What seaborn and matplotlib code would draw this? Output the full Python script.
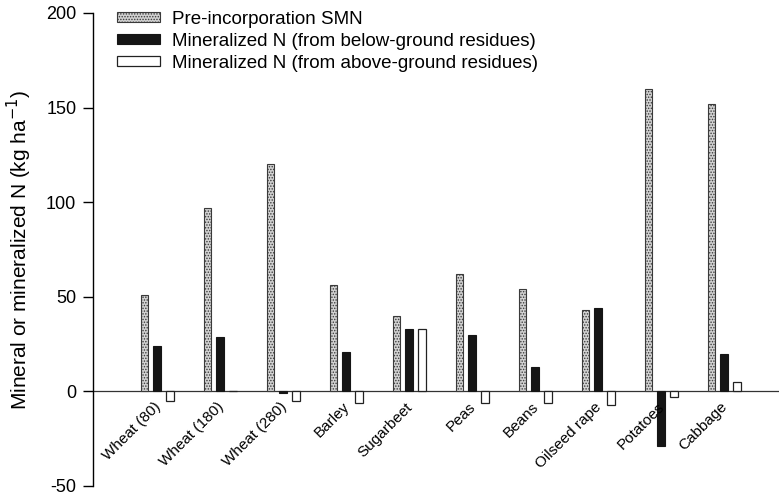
import matplotlib
matplotlib.use("Agg")
import matplotlib.pyplot as plt
from matplotlib.patches import Patch
import seaborn as sns
import pandas as pd

# Crops and nitrogen values (kg N per ha)
crops = ["Wheat (80)", "Wheat (180)", "Wheat (280)", "Barley", "Sugarbeet",
         "Peas", "Beans", "Oilseed rape", "Potatoes", "Cabbage"]
smn = [51, 97, 120, 56, 40, 62, 54, 43, 160, 152]
below_ground = [24, 29, -1, 21, 33, 30, 13, 44, -29, 20]
above_ground = [-5, 0, -5, -6, 33, -6, -6, -7, -3, 5]

series_names = ["Pre-incorporation SMN",
                "Mineralized N (from below-ground residues)",
                "Mineralized N (from above-ground residues)"]
y_ticks = [-50, 0, 50, 100, 150, 200]

frames = []
for name, vals in zip(series_names, [smn, below_ground, above_ground]):
    frames.append(pd.DataFrame({"crop": crops, "value": vals, "series": name}))
df = pd.concat(frames, ignore_index=True)

sns.set_style("white")
plt.rcParams["font.family"] = ["Liberation Sans", "DejaVu Sans"]
plt.rcParams["text.color"] = "black"
plt.rcParams["axes.labelcolor"] = "black"
plt.rcParams["ytick.color"] = "black"
plt.rcParams["hatch.color"] = "#6a6a6a"
plt.rcParams["hatch.linewidth"] = 0.7

fig = plt.figure(figsize=(7.79, 4.95), dpi=100)
ax = fig.add_axes([93 / 779, 1 - 486 / 495, 1 - 93 / 779, (486 - 13) / 495])

sns.barplot(data=df, x="crop", y="value", hue="series", order=crops,
            hue_order=series_names, errorbar=None, width=0.6, gap=0.39,
            palette=["#c4c4c4", "#151515", "#ffffff"], legend=False, ax=ax)

styles = [
    dict(facecolor="#d2d2d2", edgecolor="#3a3a3a", hatch="......", linewidth=0.8),
    dict(facecolor="#151515", edgecolor="#151515", hatch=None, linewidth=0.8),
    dict(facecolor="#ffffff", edgecolor="#222222", hatch=None, linewidth=0.9),
]
for cont, st in zip(ax.containers, styles):
    for p in cont.patches:
        p.set_facecolor(st["facecolor"])
        p.set_edgecolor(st["edgecolor"])
        p.set_linewidth(st["linewidth"])
        if st["hatch"]:
            p.set_hatch(st["hatch"])

ax.set_xlim(-1.02, 9.87)
ax.set_ylim(-50, 200)
ax.set_yticks(y_ticks)
ax.set_yticklabels([str(v) for v in y_ticks], fontsize=13, color="black")
ax.tick_params(axis="y", direction="out", length=7, width=1, color="black",
               left=True, pad=5)
ax.set_xticks([])
ax.set_xlabel("")
ax.set_ylabel("Mineral or mineralized N (kg ha$^{-1}$)", fontsize=15,
              labelpad=9, color="black")

for side in ["top", "right", "bottom"]:
    ax.spines[side].set_visible(False)
ax.spines["left"].set_color("black")
ax.spines["left"].set_linewidth(1)
ax.axhline(0, color="#333333", linewidth=0.9, zorder=0.5)

# Rotated crop names hanging below the zero line
for i, name in enumerate(crops):
    ax.text(i - 0.06, -4.5, name, rotation=45, ha="right", va="top",
            rotation_mode="anchor", fontsize=11, color="black")

legend_handles = [Patch(facecolor=st["facecolor"], edgecolor=st["edgecolor"],
                        hatch=st["hatch"], linewidth=st["linewidth"])
                  for st in styles]
leg = ax.legend(legend_handles, series_names, loc="upper left",
                bbox_to_anchor=(117 / 779, 1 - 10.5 / 495),
                bbox_transform=fig.transFigure, frameon=False, fontsize=13.5,
                handlelength=2.3, handleheight=0.5, handletextpad=0.65,
                labelspacing=0.27, borderpad=0, borderaxespad=0)
for t in leg.get_texts():
    t.set_color("black")

fig.savefig("out.png", dpi=100)
